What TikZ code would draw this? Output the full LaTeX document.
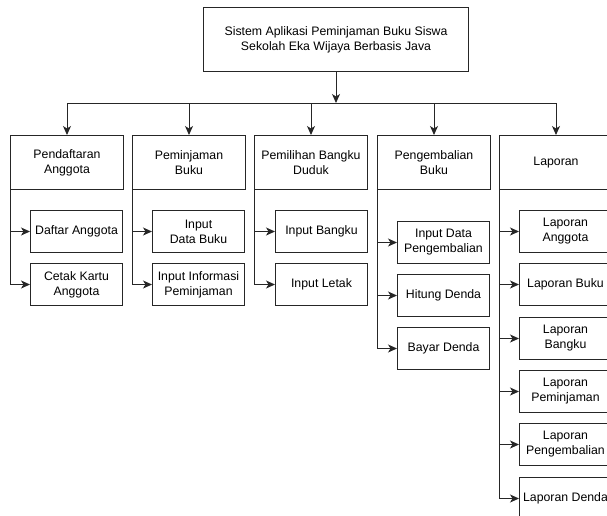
\documentclass[tikz,border=0pt]{standalone}
\usepackage{fontspec}
\setmainfont{Liberation Sans}
\usetikzlibrary{arrows.meta}
\begin{document}
\begin{tikzpicture}[x=1pt,y=-1pt,
  every node/.style={font=\fontsize{12.3}{15}\selectfont, align=center, inner sep=0pt},
  topbox/.style={draw=black!85, line width=1pt, minimum width=265pt, minimum height=64pt, anchor=north west},
  hdrbox/.style={draw=black!85, line width=1pt, minimum width=113pt, minimum height=54pt, anchor=north west},
  leafbox/.style={draw=black!85, line width=1pt, minimum width=92pt, minimum height=42pt, anchor=north west},
  arr/.style={draw=black!85, line width=1pt, -{Stealth[length=9pt,width=8pt,inset=2.5pt]}}
]
\path[use as bounding box] (0,0) rectangle (607,515);
\clip (0,0) rectangle (607,515);

\node[topbox] (top) at (203,7) {Sistem Aplikasi Peminjaman Buku Siswa\\Sekolah Eka Wijaya Berbasis Java};

\node[hdrbox] (h1) at (10,135) {Pendaftaran\\Anggota};
\node[hdrbox] (h2) at (132,135) {Peminjaman\\Buku};
\node[hdrbox] (h3) at (254,135) {Pemilihan Bangku\\Duduk};
\node[hdrbox] (h4) at (377,135) {Pengembalian\\Buku};
\node[hdrbox] (h5) at (499,135) {Laporan};

\coordinate (bus) at (336,103);
\draw[arr] (top.south) -- (bus);
\foreach \h in {h1,h2,h3,h4,h5}{
  \draw[arr] (bus) -| (\h.north);
}

% column 1
\node[leafbox] (a1) at (30,210) {Daftar Anggota};
\node[leafbox] (a2) at (30,263) {Cetak Kartu\\Anggota};
% column 2
\node[leafbox] (b1) at (152,210) {Input\\Data Buku};
\node[leafbox] (b2) at (152,263) {Input Informasi\\Peminjaman};
% column 3
\node[leafbox] (c1) at (275,210) {Input Bangku};
\node[leafbox] (c2) at (275,263) {Input Letak};
% column 4
\node[leafbox] (d1) at (397,221) {Input Data\\Pengembalian};
\node[leafbox] (d2) at (397,274) {Hitung Denda};
\node[leafbox] (d3) at (397,327) {Bayar Denda};
% column 5
\node[leafbox] (e1) at (519,210) {Laporan\\Anggota};
\node[leafbox] (e2) at (519,263) {Laporan Buku};
\node[leafbox] (e3) at (519,317) {Laporan\\Bangku};
\node[leafbox] (e4) at (519,370) {Laporan\\Peminjaman};
\node[leafbox] (e5) at (519,423) {Laporan\\Pengembalian};
\node[leafbox] (e6) at (519,477) {Laporan Denda};

\foreach \c in {a1,a2}{\draw[arr] (h1.south west) |- (\c.west);}
\foreach \c in {b1,b2}{\draw[arr] (h2.south west) |- (\c.west);}
\foreach \c in {c1,c2}{\draw[arr] (h3.south west) |- (\c.west);}
\foreach \c in {d1,d2,d3}{\draw[arr] (h4.south west) |- (\c.west);}
\foreach \c in {e1,e2,e3,e4,e5,e6}{\draw[arr] (h5.south west) |- (\c.west);}
\end{tikzpicture}
\end{document}
